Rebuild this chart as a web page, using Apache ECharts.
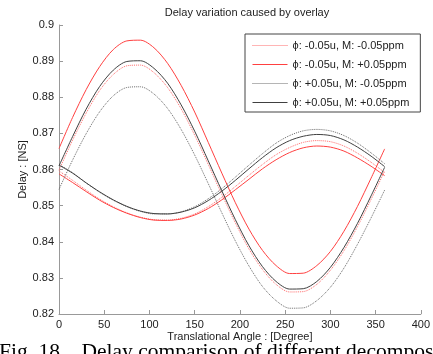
<!DOCTYPE html>
<html>
<head>
<meta charset="utf-8">
<script src="https://cdn.jsdelivr.net/npm/echarts@6/dist/echarts.min.js"></script>
<style>
html,body{margin:0;padding:0;background:#fff;}
#chart{width:433px;height:354px;}
</style>
</head>
<body>
<div id="chart"></div>
<script>
// ---- data ----
const titleText = 'Delay variation caused by overlay';
const xName = 'Translational Angle : [Degree]';
const yName = 'Delay : [NS]';
const caption = 'Fig. 18.   Delay comparison of different decomposition';
const seriesNames = [
  '\u03d5: -0.05u, M: -0.05ppm',
  '\u03d5: -0.05u, M: +0.05ppm',
  '\u03d5: +0.05u, M: -0.05ppm',
  '\u03d5: +0.05u, M: +0.05ppm'
];
const angles = [0,15,30,45,60,75,90,105,120,135,150,165,180,195,210,225,240,255,270,285,300,315,330,345,360];

// -0.05u, -0.05ppm (red dotted)
const redDotBig   = [0.8598,0.8681,0.8756,0.8819,0.8863,0.8887,0.8889,0.8868,0.8827,0.8768,0.8695,0.8614,0.8531,0.8452,0.8380,0.8323,0.8282,0.8261,0.8262,0.8282,0.8321,0.8375,0.8442,0.8517,0.8596];
const redDotSmall = [0.8596,0.8570,0.8543,0.8518,0.8497,0.8480,0.8468,0.8461,0.8460,0.8465,0.8477,0.8497,0.8523,0.8553,0.8584,0.8614,0.8641,0.8661,0.8675,0.8680,0.8677,0.8665,0.8645,0.8620,0.8592];
// -0.05u, +0.05ppm (red solid)
const redSolBig   = [0.8658,0.8744,0.8821,0.8885,0.8932,0.8956,0.8958,0.8937,0.8894,0.8833,0.8759,0.8675,0.8590,0.8508,0.8435,0.8376,0.8334,0.8312,0.8313,0.8334,0.8373,0.8429,0.8498,0.8576,0.8657];
const redSolSmall = [0.8588,0.8564,0.8539,0.8515,0.8495,0.8479,0.8467,0.8460,0.8459,0.8463,0.8474,0.8492,0.8516,0.8544,0.8573,0.8602,0.8627,0.8647,0.8660,0.8665,0.8662,0.8651,0.8632,0.8609,0.8583];
// +0.05u, -0.05ppm (black dotted)
const blkDotBig   = [0.8545,0.8626,0.8699,0.8760,0.8804,0.8827,0.8829,0.8809,0.8769,0.8711,0.8640,0.8561,0.8480,0.8402,0.8333,0.8276,0.8237,0.8216,0.8217,0.8237,0.8274,0.8327,0.8393,0.8466,0.8543];
const blkDotSmall = [0.8614,0.8591,0.8563,0.8537,0.8515,0.8497,0.8484,0.8477,0.8477,0.8483,0.8497,0.8519,0.8547,0.8579,0.8612,0.8644,0.8673,0.8694,0.8707,0.8711,0.8707,0.8694,0.8673,0.8646,0.8616];
// +0.05u, +0.05ppm (black solid)
const blkSolBig   = [0.8610,0.8691,0.8767,0.8830,0.8875,0.8899,0.8901,0.8880,0.8839,0.8779,0.8706,0.8624,0.8541,0.8461,0.8389,0.8331,0.8290,0.8269,0.8270,0.8290,0.8329,0.8384,0.8451,0.8527,0.8606];
const blkSolSmall = [0.8612,0.8590,0.8563,0.8538,0.8516,0.8498,0.8485,0.8478,0.8477,0.8482,0.8494,0.8514,0.8540,0.8570,0.8602,0.8633,0.8660,0.8680,0.8692,0.8697,0.8694,0.8682,0.8662,0.8637,0.8608];

const xMin = 0, xMax = 400, xStep = 50;
const yMin = 0.82, yMax = 0.90, yStep = 0.01;

// ---- chart ----
const font = "'Liberation Sans', Arial, Helvetica, sans-serif";
const styles = [
  {color:'#ff6a6a', type:'dotted'},
  {color:'#ff4040', type:'solid'},
  {color:'#6a6a6a', type:'dotted'},
  {color:'#404040', type:'solid'}
];
const curveSets = [
  [redDotBig, redDotSmall],
  [redSolBig, redSolSmall],
  [blkDotBig, blkDotSmall],
  [blkSolBig, blkSolSmall]
];
const pair = (arr) => angles.map((a,i)=>[a, arr[i]]);
const series = [];
curveSets.forEach((set, k) => {
  set.forEach(arr => {
    series.push({
      type:'line', name: seriesNames[k], data: pair(arr),
      symbol:'none', smooth:0.3, silent:true, animation:false,
      lineStyle:{color:styles[k].color, type:styles[k].type, width:1},
      itemStyle:{color:styles[k].color}
    });
  });
});

const chart = echarts.init(document.getElementById('chart'), null, {renderer:'canvas'});
chart.setOption({
  animation:false,
  backgroundColor:'#fff',
  title:{text:titleText, left:242, textAlign:'center', top:2,
    textStyle:{fontFamily:font, fontSize:11, fontWeight:'normal', color:'#222'}},
  grid:{left:59, right:7, top:25, bottom:40},
  legend:{
    data:seriesNames.map((n,k)=>({name:n,
      lineStyle:{color:styles[k].color, type:styles[k].type, width:1}})),
    orient:'vertical', left:245, top:34,
    itemWidth:35, itemHeight:10, itemGap:8, padding:[6,11,4,7],
    borderColor:'#444', borderWidth:1, backgroundColor:'#fff',
    itemStyle:{color:'rgba(0,0,0,0)', borderColor:'rgba(0,0,0,0)', borderWidth:0, opacity:0},
    lineStyle:{width:1},
    textStyle:{fontFamily:font, fontSize:11, color:'#222'},
    selectedMode:false
  },
  xAxis:{
    type:'value', min:xMin, max:xMax, interval:xStep,
    name:xName, nameLocation:'middle', nameGap:17, nameMoveOverlap:false,
    nameTextStyle:{fontFamily:font, fontSize:11, color:'#222'},
    axisLine:{lineStyle:{color:'#999', width:1}},
    axisTick:{inside:true, length:4, lineStyle:{color:'#999'}},
    axisLabel:{fontFamily:font, fontSize:11, color:'#222', margin:5},
    splitLine:{show:false}
  },
  yAxis:{
    type:'value', min:yMin, max:yMax, interval:yStep,
    name:yName, nameLocation:'middle', nameGap:31, nameMoveOverlap:false,
    nameTextStyle:{fontFamily:font, fontSize:11, color:'#222'},
    axisLine:{show:true, lineStyle:{color:'#999', width:1}},
    axisTick:{show:true, inside:true, length:4, lineStyle:{color:'#999'}},
    axisLabel:{fontFamily:font, fontSize:11, color:'#222', margin:5,
      formatter:(v)=>String(+v.toFixed(2))},
    splitLine:{show:false}
  },
  graphic:[{
    type:'text', left:-1, top:341, silent:true,
    style:{text:caption, fontFamily:"'Liberation Serif','Times New Roman',serif", fontSize:21.5, fill:'#000'}
  }],
  series:series
});
</script>
</body>
</html>
